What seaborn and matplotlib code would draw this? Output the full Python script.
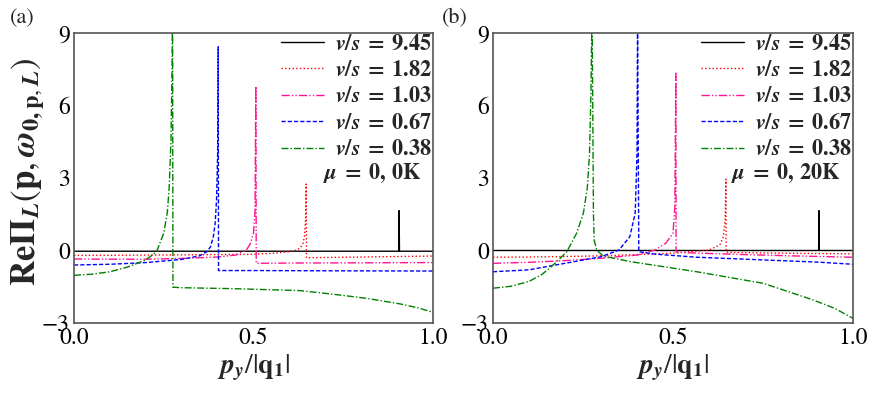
import seaborn as sns
import matplotlib.pyplot as plt
import pandas as pd

# legend labels
speeds = ["9.45", "1.82", "1.03", "0.67", "0.38"]
temps = ["0K", "20K"]

# panel (a): mu = 0, 0K
a_black_x = [0.0, 0.5, 0.9045, 0.9055, 0.9065, 1.0]
a_black_y = [-0.03, -0.03, -0.03, 1.65, -0.03, -0.03]
a_red_x = [0.0, 0.1, 0.2, 0.3, 0.4, 0.49, 0.55, 0.6, 0.62, 0.63, 0.638, 0.642, 0.645, 0.6465, 0.6475, 0.7, 0.8, 0.9, 1.0]
a_red_y = [-0.2, -0.2, -0.19, -0.18, -0.17, -0.16, -0.12, -0.05, 0.02, 0.1, 0.3, 0.6, 1.3, 2.75, -0.3, -0.29, -0.27, -0.25, -0.23]
a_pink_x = [0.0, 0.1, 0.2, 0.3, 0.4, 0.45, 0.48, 0.49, 0.5, 0.504, 0.5065, 0.5075, 0.6, 0.8, 1.0]
a_pink_y = [-0.35, -0.36, -0.36, -0.33, -0.27, -0.19, 0.02, 0.25, 0.72, 1.6, 6.8, -0.53, -0.52, -0.51, -0.5]
a_blue_x = [0.0, 0.1, 0.2, 0.3, 0.35, 0.37, 0.38, 0.388, 0.393, 0.397, 0.4, 0.4015, 0.4025, 0.5, 0.7, 1.0]
a_blue_y = [-0.6, -0.57, -0.5, -0.37, -0.22, -0.05, 0.15, 0.57, 1.1, 2.1, 4.0, 8.43, -0.83, -0.83, -0.84, -0.85]
a_green_x = [0.0, 0.05, 0.1, 0.15, 0.2, 0.23, 0.25, 0.26, 0.265, 0.27, 0.273, 0.2745, 0.2755, 0.3, 0.444, 0.63, 0.722, 0.815, 0.908, 0.96, 1.0]
a_green_y = [-1.03, -0.98, -0.88, -0.68, -0.39, -0.05, 0.72, 1.6, 2.6, 4.5, 7.5, 10.5, -1.52, -1.54, -1.58, -1.66, -1.81, -1.98, -2.21, -2.38, -2.56]

# panel (b): mu = 0, 20K
b_black_x = [0.0, 0.5, 0.9045, 0.9055, 0.9065, 1.0]
b_black_y = [0.0, 0.0, 0.0, 1.65, 0.0, 0.0]
b_red_x = [0.0, 0.1, 0.2, 0.3, 0.4, 0.5, 0.55, 0.6, 0.63, 0.64, 0.645, 0.647, 0.6475, 0.66, 0.8, 1.0]
b_red_y = [-0.28, -0.27, -0.25, -0.22, -0.17, -0.11, -0.05, 0.02, 0.23, 0.57, 1.3, 2.95, -0.06, -0.08, -0.11, -0.14]
b_pink_x = [0.0, 0.1, 0.2, 0.3, 0.4, 0.45, 0.48, 0.5, 0.505, 0.508, 0.5085, 0.55, 0.7, 0.85, 1.0]
b_pink_y = [-0.53, -0.49, -0.42, -0.32, -0.19, 0.02, 0.3, 0.71, 1.8, 7.33, -0.06, -0.1, -0.17, -0.23, -0.28]
b_blue_x = [0.0, 0.1, 0.2, 0.3, 0.35, 0.38, 0.395, 0.4, 0.4015, 0.405, 0.45, 0.566, 0.751, 0.9, 1.0]
b_blue_y = [-0.88, -0.8, -0.53, -0.26, 0.02, 0.57, 1.55, 4.0, 9.5, -0.05, -0.15, -0.28, -0.39, -0.48, -0.57]
b_green_x = [0.0, 0.05, 0.1, 0.135, 0.158, 0.18, 0.205, 0.232, 0.251, 0.262, 0.268, 0.272, 0.275, 0.277, 0.279, 0.281, 0.288, 0.306, 0.381, 0.566, 0.751, 0.89, 0.95, 1.0]
b_green_y = [-1.56, -1.48, -1.28, -1.0, -0.72, -0.42, -0.05, 0.71, 1.54, 2.6, 4.0, 6.5, 10.0, 6.0, 1.5, 0.43, 0.02, -0.23, -0.46, -0.88, -1.36, -2.05, -2.4, -2.81]

sns.set_theme(style="white")
plt.rcParams["font.family"] = ["STIXGeneral", "DejaVu Serif"]
plt.rcParams["mathtext.fontset"] = "stix"

colors = ["black", "red", "deeppink", "blue", "green"]
dashes = ["-", ":", (0, (6, 1.5, 1, 1.5, 1, 1.5)), (0, (3, 1.5)), (0, (5, 1.5, 1, 1.5))]

panels = [
    [(a_black_x, a_black_y), (a_red_x, a_red_y), (a_pink_x, a_pink_y),
     (a_blue_x, a_blue_y), (a_green_x, a_green_y)],
    [(b_black_x, b_black_y), (b_red_x, b_red_y), (b_pink_x, b_pink_y),
     (b_blue_x, b_blue_y), (b_green_x, b_green_y)],
]

fig = plt.figure(figsize=(8.72, 3.95), dpi=100)
ax_a = fig.add_axes([0.0849, 0.1823, 0.4117, 0.7342])
ax_b = fig.add_axes([0.5654, 0.1823, 0.4128, 0.7342])

for ax, curves, temp, tag, tag_x in zip([ax_a, ax_b], panels, temps,
                                        ["(a)", "(b)"], [0.011, 0.507]):
    for i, (xs, ys) in enumerate(curves):
        df = pd.DataFrame({"x": xs, "y": ys})
        sns.lineplot(data=df, x="x", y="y", ax=ax, color=colors[i],
                     linewidth=1.0, sort=False, estimator=None,
                     label=r"$\boldsymbol{v/s}\;\mathbf{=}\;\mathbf{" + speeds[i] + "}$")
        ax.lines[-1].set_linestyle(dashes[i])
    ax.set_xlim(0, 1)
    ax.set_ylim(-3, 9)
    ax.set_xticks([0.0, 0.5, 1.0])
    ax.set_yticks([-3, 0, 3, 6, 9])
    ax.tick_params(direction="inout", length=4, width=0.8, labelsize=17,
                   colors="#555555", labelcolor="black", pad=1)
    for s in ax.spines.values():
        s.set_color("#555555")
        s.set_linewidth(1.2)
    ax.set_xlabel(r"$\boldsymbol{p}_{\boldsymbol{y}}/|\mathbf{q}_\mathbf{1}|$",
                  fontsize=20, labelpad=3)
    ax.set_ylabel("")
    ax.legend(loc="upper right", frameon=False, fontsize=16,
              handlelength=1.9, handletextpad=0.5, labelspacing=0.26,
              borderaxespad=0.0, borderpad=0.05)
    ax.text(0.966, 0.515,
            r"$\boldsymbol{\mu}\;\mathbf{=}\;\mathbf{0,}\,\mathbf{" + temp + "}$",
            transform=ax.transAxes, ha="right", va="center", fontsize=16)
    fig.text(tag_x, 0.955, tag, fontsize=16, ha="left", va="center")

ax_a.set_ylabel(r"$\mathbf{Re\Pi}_{\boldsymbol{L}}(\mathbf{p},\boldsymbol{\omega}_{\mathbf{0,p},\boldsymbol{L}})$",
                fontsize=25)
ax_a.yaxis.set_label_coords(-0.075, 0.52)

fig.savefig("out.png", dpi=100)
